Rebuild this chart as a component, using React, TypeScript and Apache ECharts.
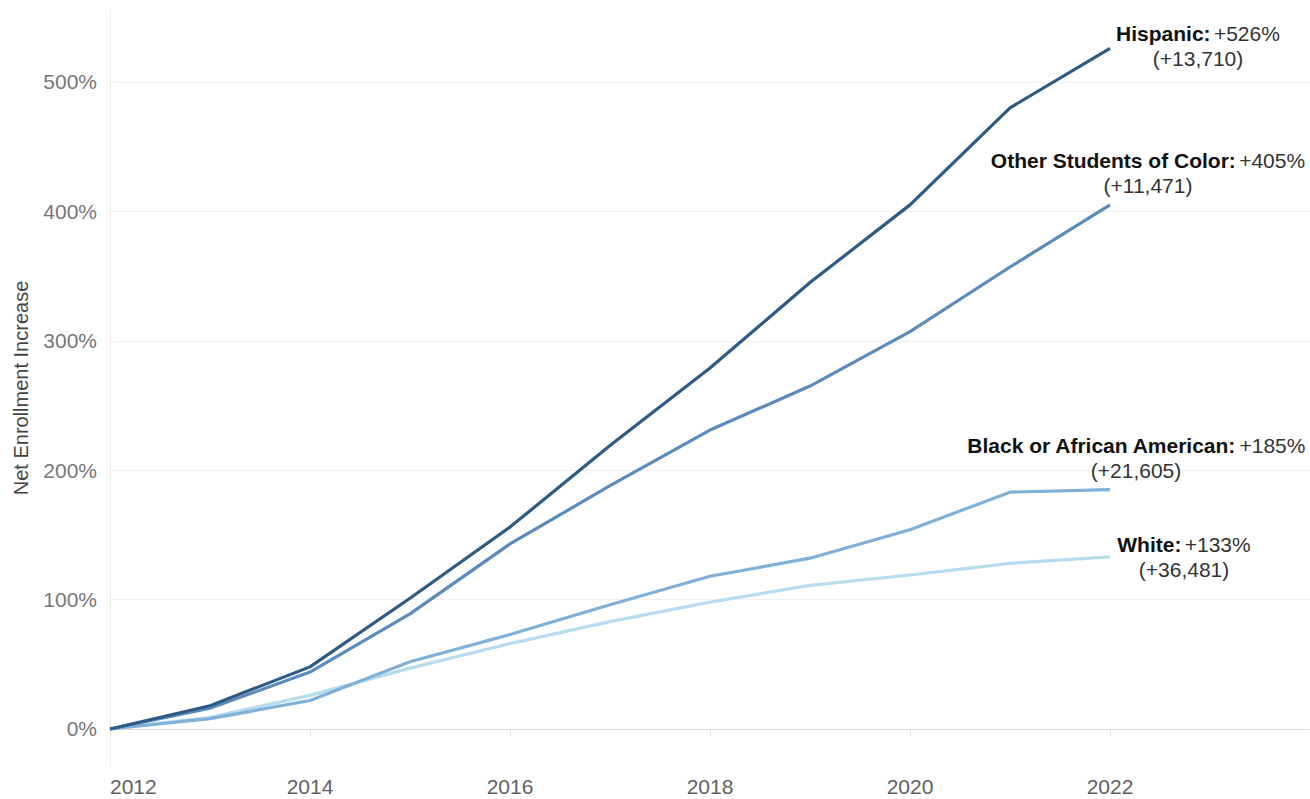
import React, { useEffect, useRef } from "react";
import * as echarts from "echarts";

const YEARS = [2012, 2013, 2014, 2015, 2016, 2017, 2018, 2019, 2020, 2021, 2022];
const HISPANIC = [0, 18, 48, 101, 156, 219, 279, 345, 405, 480, 526];
const OTHER = [0, 16, 44, 89, 143, 188, 231, 265, 307, 357, 405];
const BLACK = [0, 8, 22, 52, 73, 96, 118, 132, 154, 183, 185];
const WHITE = [0, 9, 26, 47, 66, 83, 98, 111, 119, 128, 133];

const SERIES_NAMES = ["Hispanic", "Other Students of Color", "Black or African American", "White"];
const SERIES_PCT = ["+526%", "+405%", "+185%", "+133%"];
const SERIES_COUNT = ["(+13,710)", "(+11,471)", "(+21,605)", "(+36,481)"];
const SERIES_COLORS = ["#2e5a86", "#5b8bba", "#7fb0d8", "#b7dcf0"];
const Y_TICKS = [0, 100, 200, 300, 400, 500];
const X_TICKS = [2012, 2014, 2016, 2018, 2020, 2022];

const LABEL_OFFSETS: [number, number][] = [
  [88, -2],
  [38, -32],
  [26, -32],
  [74, 0],
];

export default function App() {
  const ref = useRef<HTMLDivElement>(null);
  useEffect(() => {
    if (!ref.current) return;
    const chart = echarts.init(ref.current, null, { renderer: "svg" });
    const values = [HISPANIC, OTHER, BLACK, WHITE];
    const font = "'Liberation Sans', Arial, sans-serif";
    const series: any[] = values.map((vals, i) => ({
      name: SERIES_NAMES[i],
      type: "line",
      data: YEARS.map((y, k) => [y, vals[k]]),
      showSymbol: false,
      symbol: "none",
      z: 10 - i,
      lineStyle: { color: SERIES_COLORS[i], width: 3.2 },
      itemStyle: { color: SERIES_COLORS[i] },
      endLabel: {
        show: true,
        distance: 0,
        align: "center",
        verticalAlign: "middle",
        offset: LABEL_OFFSETS[i],
        lineHeight: 25,
        fontFamily: font,
        formatter: () =>
          `{b|${SERIES_NAMES[i]}:} {n|${SERIES_PCT[i]}}\n{n|${SERIES_COUNT[i]}}`,
        rich: {
          b: { fontWeight: "bold", fontSize: 21, color: "#111", fontFamily: font, lineHeight: 25 },
          n: { fontSize: 21, color: "#333", fontFamily: font, lineHeight: 25 },
        },
      },
    }));
    series[0].markLine = {
      silent: true,
      symbol: "none",
      label: { show: false },
      data: Y_TICKS.map((t) => ({
        yAxis: t,
        lineStyle:
          t === 0
            ? { color: "#bbbbbb", type: [1, 3], width: 1 }
            : { color: "#efefef", type: "solid", width: 1 },
      })),
      z: 1,
    };
    chart.setOption({
      animation: false,
      backgroundColor: "#ffffff",
      grid: { left: 110, right: 0, top: 10, bottom: 33, containLabel: false, outerBoundsMode: "none" },
      xAxis: {
        type: "value",
        min: 2012,
        max: 2024,
        interval: 1,
        axisLine: { show: true, lineStyle: { color: "#e6e6e6" } },
        axisTick: {
          show: true,
          length: 7,
          lineStyle: { color: "#e6e6e6" },
          customValues: X_TICKS,
        },
        splitLine: { show: false },
        axisLabel: {
          customValues: X_TICKS,
          formatter: (v: number) => String(v),
          color: "#5f5f5f",
          fontSize: 21,
          fontFamily: font,
          margin: 10,
          alignMinLabel: "left",
        },
      },
      yAxis: {
        type: "value",
        min: -28.6,
        max: 555.6,
        name: "Net Enrollment Increase",
        nameLocation: "middle",
        nameGap: 79,
        nameTextStyle: { color: "#444", fontSize: 20, fontFamily: font },
        axisLine: { show: true, lineStyle: { color: "#ececec" } },
        axisTick: { show: false },
        splitLine: { show: false },
        axisLabel: {
          customValues: Y_TICKS,
          formatter: (v: number) => `${v}%`,
          color: "#777",
          fontSize: 21,
          fontFamily: font,
          margin: 13,
        },
      },
      series,
    });
    return () => chart.dispose();
  }, []);
  return (
    <div
      ref={ref}
      style={{ position: "fixed", left: 0, top: 0, width: 1310, height: 799, background: "#fff" }}
    />
  );
}
